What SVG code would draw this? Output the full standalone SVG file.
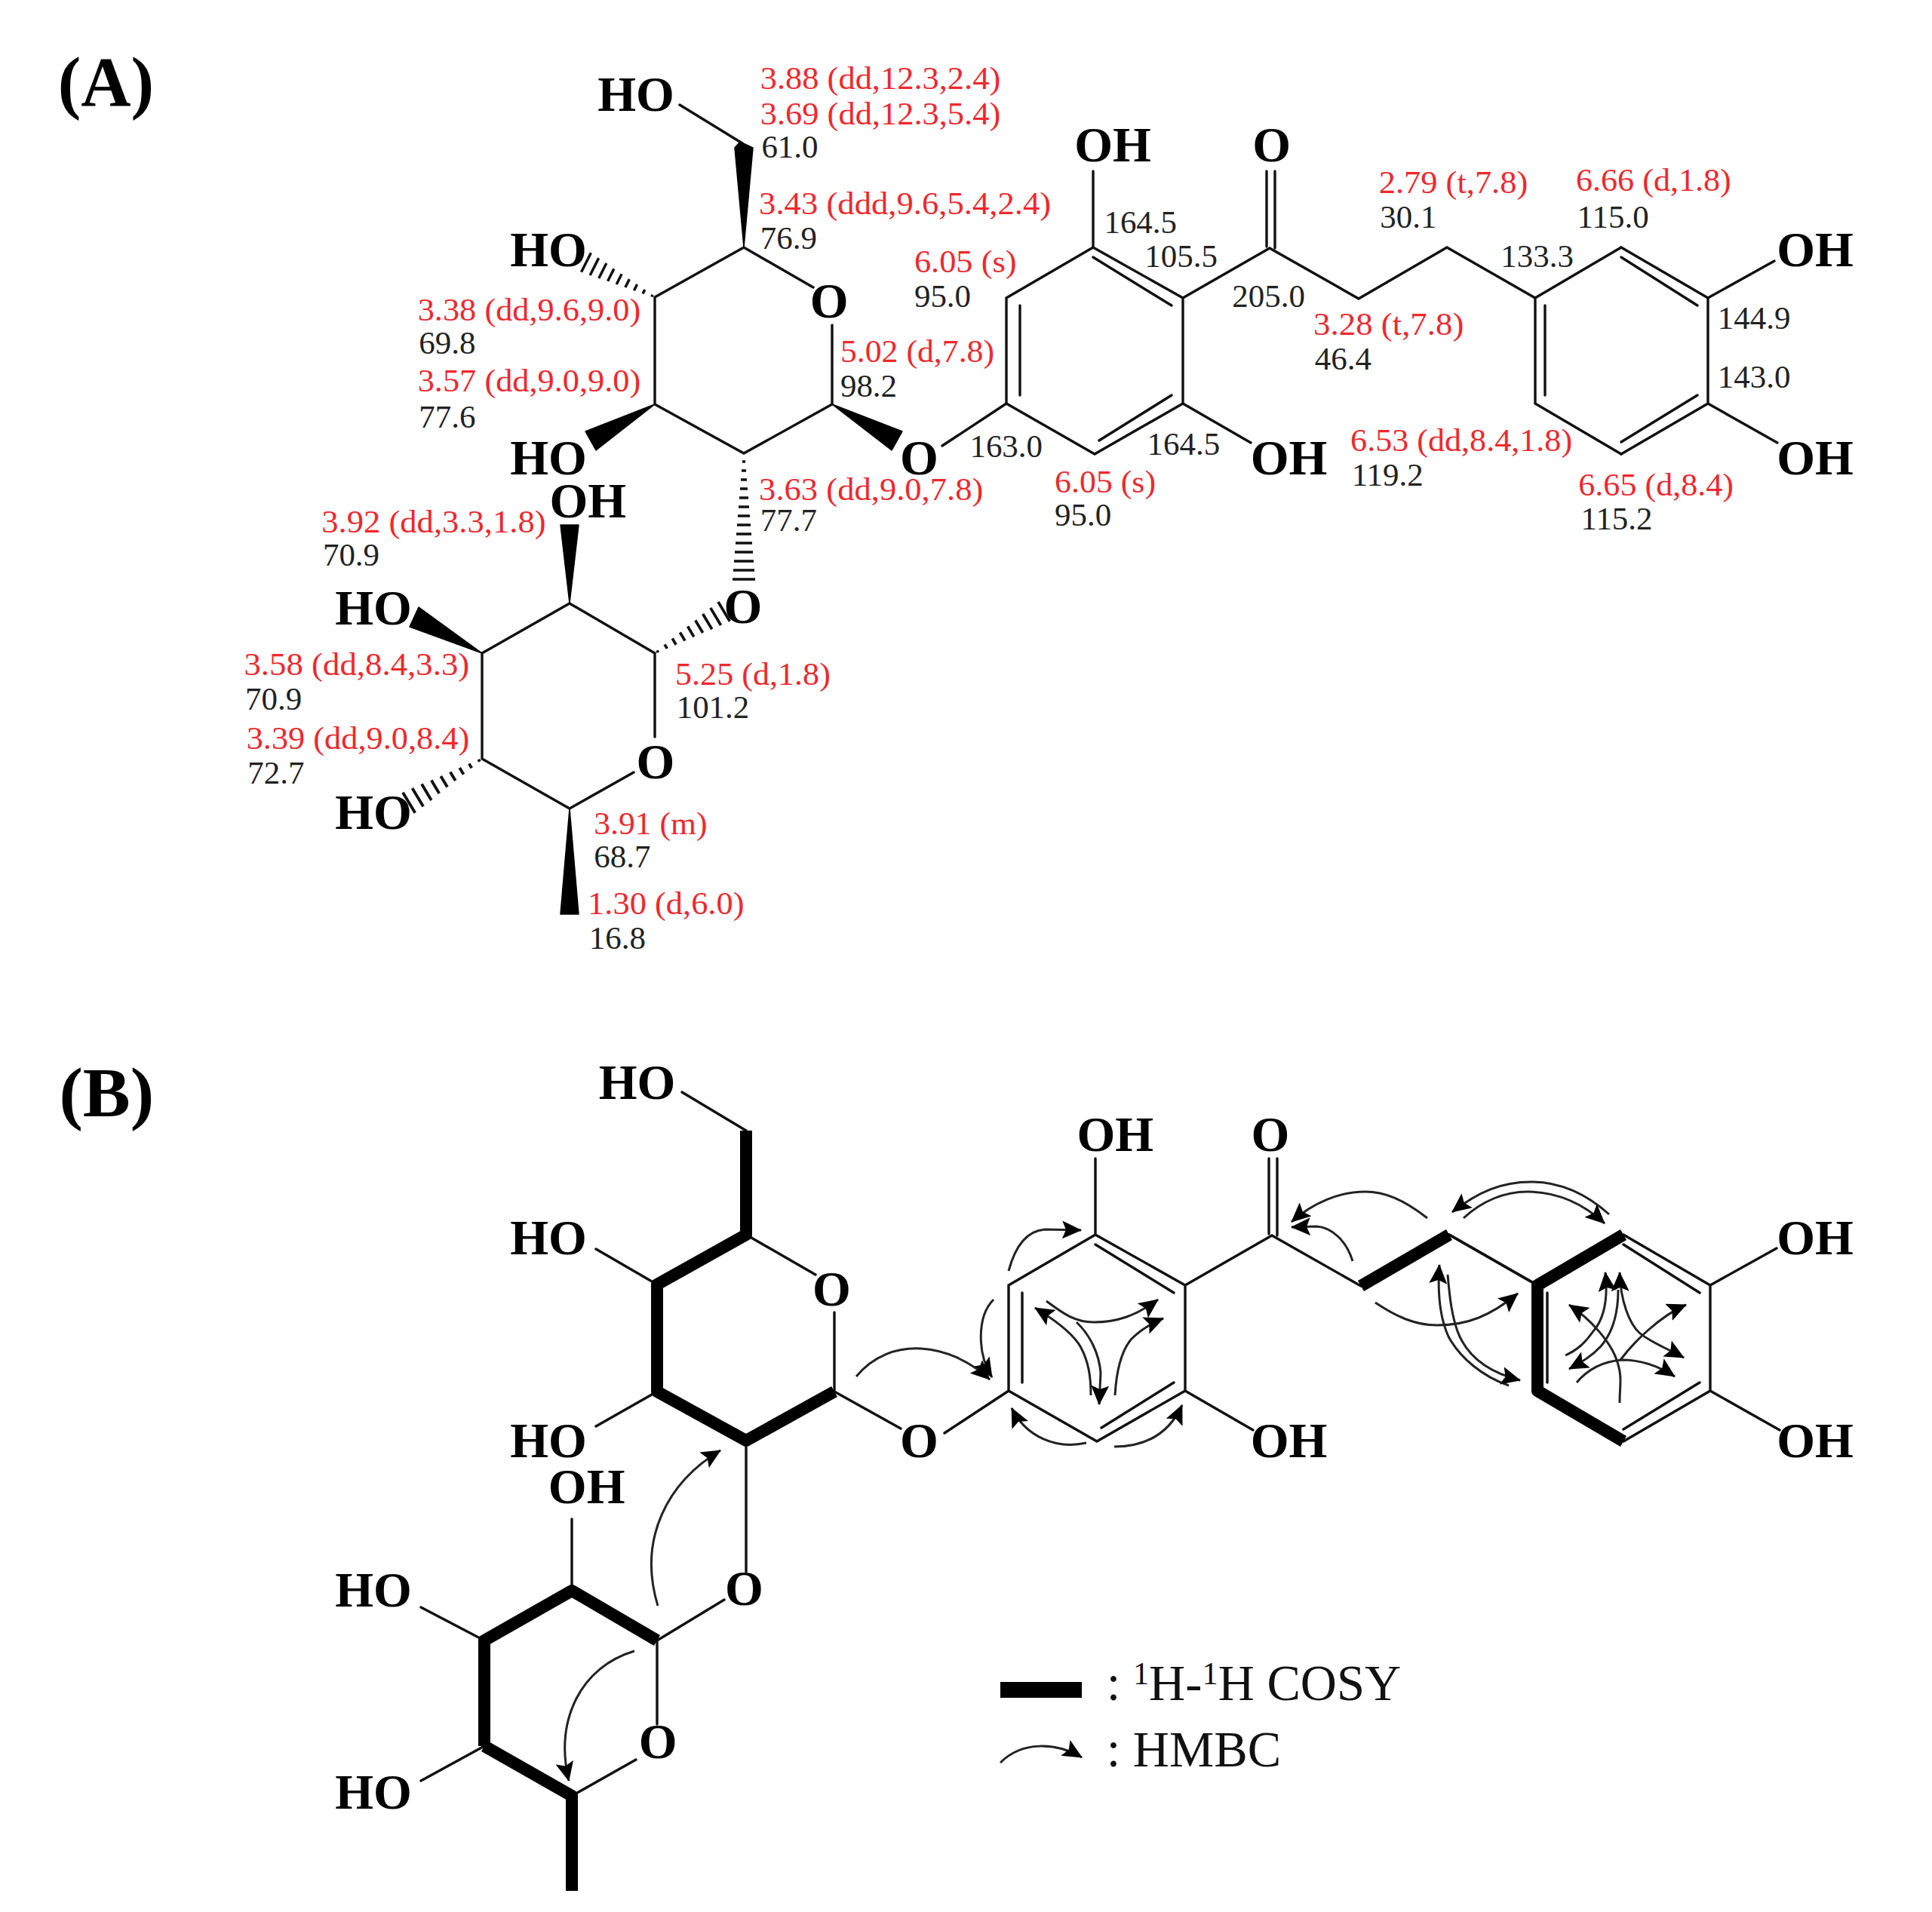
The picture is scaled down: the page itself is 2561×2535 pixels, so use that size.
<svg xmlns="http://www.w3.org/2000/svg" width="2561" height="2535" viewBox="0 0 2561 2535">
<style>
.b{stroke:#111;stroke-width:3.4;fill:none;stroke-linecap:round}
.k{stroke:#000;stroke-width:16;fill:none;stroke-linecap:butt;stroke-linejoin:round}
.w{fill:#000;stroke:#000;stroke-width:1.5;stroke-linejoin:round}
.h{stroke:#111;stroke-width:3.4;fill:none}
.a{stroke:#222;stroke-width:3;fill:none}
.at{font:bold 40px "Liberation Serif",serif;fill:#000}
.o{text-anchor:middle}
.r{font:26.3px "Liberation Serif",serif;fill:#f0282d}
.n{font:26.3px "Liberation Serif",serif;fill:#222}
.t{font:bold 56.5px "Liberation Serif",serif;fill:#000}
.lg{font:40.8px "Liberation Serif",serif;fill:#111}
</style>
<defs>
<marker id="m" viewBox="0 0 26 24" refX="25" refY="12" markerWidth="26" markerHeight="24" markerUnits="userSpaceOnUse" orient="auto-start-reverse"><path d="M0 0L26 12L0 24L5 12Z" fill="#000"/></marker>
<path id="hs" class="h" d="M4-1.5V1.5M16-3V3M28-4.5V4.5M40-6V6M52-7.5V7.5M64-9V9M76-11V11M88-12.5V12.5M100-14V14"/>
<g id="common">
<path class="b" d="M1449 227V328L1334 395V535L1451 602L1568 535V395L1449 328M1568 395L1683 329L1801 396L1918 328L2035 395M2149 328L2264 395V535L2149 602M2264 395L2352 346M2264 535L2356 587M1568 535L1658 587M1334 535L1249 591"/>
<path class="b" d="M1449 341L1553 405M1553 524L1457 584M1352 405V524M1679 227V327M1690 227V329M2250 405L2149 341M2250 524L2149 586"/>
<path class="b" d="M2048 405V524"/>
</g>
</defs>
<g id="panel-A">
<g id="bonds-A">
<use href="#common"/>
<path class="b" d="M901 139L984 190M986 328L868 394V536L986 601L1103 536V431M986 328L1078 381M868 866V977M840 1024L755 1072L639 1006V866L755 800L868 866M2035 395V535L2149 602M2035 395L2149 328"/>
<polygon class="w" points="986,328 974,196 981,188 998,196"/>
<polygon class="w" points="868,536 776,572 790,597"/>
<polygon class="w" points="1103,536 1196,572 1182,597"/>
<polygon class="w" points="755,800 743,696 767,696"/>
<polygon class="w" points="639,866 555,805 543,831"/>
<polygon class="w" points="755,1072 743,1212 767,1212"/>
<use href="#hs" transform="translate(868 394) rotate(206.8) scale(1.02)"/>
<use href="#hs" transform="translate(868 866) rotate(-31) scale(1.07)"/>
<use href="#hs" transform="translate(639 1006) rotate(149) scale(1.13)"/>
<path class="h" d="M984 612H988M983 624H989M982 636H990M981 648H991M980 660H992M979 672H993M978 684H994M977 696H995M976 708H996M975 720H997M974 732H998M973 744H999M972 756H1000M971 768H1001"/>
</g>
<g id="text-A" transform="scale(1.6333)">
<text class="t" x="47" y="86" textLength="78" lengthAdjust="spacingAndGlyphs">(A)</text>
<g id="atoms-A">
<text class="at" x="485" y="90">HO</text><text class="at" x="414" y="216">HO</text><text class="at o" x="673" y="258">O</text><text class="at" x="414" y="385">HO</text><text class="at o" x="746" y="385">O</text><text class="at" x="446" y="420">OH</text><text class="at o" x="603" y="506">O</text><text class="at" x="272" y="507">HO</text><text class="at o" x="532" y="632">O</text><text class="at" x="272" y="673">HO</text><text class="at" x="872" y="131">OH</text><text class="at o" x="1032" y="131">O</text><text class="at" x="1442" y="216">OH</text><text class="at" x="1015" y="385">OH</text><text class="at" x="1442" y="385">OH</text>
</g>
<g id="shifts-H" transform="translate(0 -1)">
<text class="r" x="617" y="73" textLength="195" lengthAdjust="spacingAndGlyphs">3.88 (dd,12.3,2.4)</text>
<text class="r" x="617" y="102" textLength="195" lengthAdjust="spacingAndGlyphs">3.69 (dd,12.3,5.4)</text>
<text class="r" x="616" y="175" textLength="237" lengthAdjust="spacingAndGlyphs">3.43 (ddd,9.6,5.4,2.4)</text>
<text class="r" x="742" y="222" textLength="83" lengthAdjust="spacingAndGlyphs">6.05 (s)</text>
<text class="r" x="1119" y="158" textLength="121" lengthAdjust="spacingAndGlyphs">2.79 (t,7.8)</text>
<text class="r" x="1279" y="156" textLength="126" lengthAdjust="spacingAndGlyphs">6.66 (d,1.8)</text>
<text class="r" x="339" y="261" textLength="181" lengthAdjust="spacingAndGlyphs">3.38 (dd,9.6,9.0)</text>
<text class="r" x="682" y="295" textLength="125" lengthAdjust="spacingAndGlyphs">5.02 (d,7.8)</text>
<text class="r" x="339" y="319" textLength="181" lengthAdjust="spacingAndGlyphs">3.57 (dd,9.0,9.0)</text>
<text class="r" x="1066" y="273" textLength="122" lengthAdjust="spacingAndGlyphs">3.28 (t,7.8)</text>
<text class="r" x="1096" y="367" textLength="180" lengthAdjust="spacingAndGlyphs">6.53 (dd,8.4,1.8)</text>
<text class="r" x="856" y="401" textLength="82" lengthAdjust="spacingAndGlyphs">6.05 (s)</text>
<text class="r" x="616" y="407" textLength="182" lengthAdjust="spacingAndGlyphs">3.63 (dd,9.0,7.8)</text>
<text class="r" x="1281" y="403" textLength="126" lengthAdjust="spacingAndGlyphs">6.65 (d,8.4)</text>
<text class="r" x="261" y="433" textLength="182" lengthAdjust="spacingAndGlyphs">3.92 (dd,3.3,1.8)</text>
<text class="r" x="548" y="557" textLength="126" lengthAdjust="spacingAndGlyphs">5.25 (d,1.8)</text>
<text class="r" x="198" y="549" textLength="183" lengthAdjust="spacingAndGlyphs">3.58 (dd,8.4,3.3)</text>
<text class="r" x="200" y="609" textLength="181" lengthAdjust="spacingAndGlyphs">3.39 (dd,9.0,8.4)</text>
<text class="r" x="482" y="678" textLength="92" lengthAdjust="spacingAndGlyphs">3.91 (m)</text>
<text class="r" x="477" y="743" textLength="127" lengthAdjust="spacingAndGlyphs">1.30 (d,6.0)</text>
</g>
<g id="shifts-C" transform="translate(0 -1)">
<text class="n" x="618" y="129">61.0</text><text class="n" x="617" y="203">76.9</text><text class="n" x="742" y="250">95.0</text><text class="n" x="896" y="190">164.5</text><text class="n" x="929" y="218">105.5</text><text class="n" x="1000" y="250">205.0</text><text class="n" x="1120" y="186">30.1</text><text class="n" x="1280" y="186">115.0</text><text class="n" x="1218" y="218">133.3</text><text class="n" x="340" y="288">69.8</text><text class="n" x="682" y="323">98.2</text><text class="n" x="340" y="348">77.6</text><text class="n" x="1067" y="301">46.4</text><text class="n" x="1394" y="268">144.9</text><text class="n" x="1394" y="316">143.0</text><text class="n" x="1097" y="395">119.2</text><text class="n" x="787" y="372">163.0</text><text class="n" x="931" y="370">164.5</text><text class="n" x="856" y="428">95.0</text><text class="n" x="617" y="432">77.7</text><text class="n" x="1283" y="431">115.2</text><text class="n" x="262" y="460">70.9</text><text class="n" x="549" y="584">101.2</text><text class="n" x="199" y="577">70.9</text><text class="n" x="201" y="637">72.7</text><text class="n" x="482" y="705">68.7</text><text class="n" x="478" y="771">16.8</text>
</g>
</g>
</g>
<g id="panel-B">
<g id="bonds-B" transform="translate(3 1309)">
<use href="#common"/>
<path class="b" d="M901 139L986 190M787 347L868 394M787 582L868 536M986 328L1078 381M1103 431V536M1103 536L1191 585M986 601V775M957 812L868 866M755 800V705M639 866L555 822M639 1006L555 1052M868 866V977M840 1024L755 1072M2035 395L1918 328"/>
<path class="k" d="M986 190V328L868 394V536L986 601L1103 536M639 1006V866L755 800L868 866M639 1006L755 1072V1198M1801 396L1918 328M2149 328L2035 395V535L2149 602"/>
</g>
<g id="arrows-B">
<path class="a" marker-end="url(#m)" d="M1135 1825C1180 1770 1260 1780 1312 1829"/>
<path class="a" marker-end="url(#m)" d="M1317 1723C1295 1745 1295 1795 1315 1826"/>
<path class="a" marker-end="url(#m)" d="M1337 1685C1345 1655 1360 1632 1385 1630L1433 1631"/>
<path class="a" marker-end="url(#m)" d="M1440 1913C1400 1922 1360 1905 1341 1867"/>
<path class="a" marker-end="url(#m)" d="M1477 1918C1520 1918 1550 1900 1567 1863"/>
<path class="a" marker-end="url(#m)" d="M1387 1725C1410 1742 1425 1753 1450 1753C1480 1753 1505 1745 1535 1723"/>
<path class="a" marker-start="url(#m)" d="M1372 1734C1395 1748 1420 1765 1432 1785C1443 1805 1446 1825 1446 1850"/>
<path class="a" marker-end="url(#m)" d="M1427 1753C1445 1770 1457 1795 1459 1820L1457 1862"/>
<path class="a" marker-end="url(#m)" d="M1478 1850C1480 1815 1487 1790 1500 1775C1510 1765 1525 1755 1542 1748"/>
<path class="a" marker-end="url(#m)" d="M1892 1615C1860 1590 1835 1580 1810 1580C1775 1580 1740 1595 1712 1620"/>
<path class="a" marker-end="url(#m)" d="M1793 1672C1785 1645 1765 1627 1745 1626L1712 1627"/>
<path class="a" marker-start="url(#m)" d="M1925 1607C1960 1580 1990 1567 2030 1567C2070 1567 2105 1585 2133 1610"/>
<path class="a" marker-end="url(#m)" d="M1940 1615C1965 1592 1995 1580 2025 1580C2065 1580 2100 1597 2127 1622"/>
<path class="a" marker-end="url(#m)" d="M1823 1727C1850 1745 1875 1757 1905 1757C1945 1757 1975 1745 2012 1715"/>
<path class="a" marker-start="url(#m)" d="M1908 1677C1905 1720 1910 1750 1920 1772C1935 1800 1965 1825 2000 1837"/>
<path class="a" marker-end="url(#m)" d="M1919 1690C1922 1725 1925 1745 1932 1765C1945 1800 1975 1820 2015 1830"/>
<path class="a" marker-start="url(#m)" d="M2080 1730C2110 1750 2135 1780 2143 1803S2147 1835 2147 1860"/>
<path class="a" marker-start="url(#m)" d="M2235 1730C2200 1745 2165 1780 2148 1803"/>
<path class="a" marker-end="url(#m)" d="M2090 1833C2105 1815 2125 1805 2150 1803C2175 1803 2200 1812 2220 1825"/>
<path class="a" marker-start="url(#m)" d="M2128 1687C2132 1725 2125 1750 2112 1765C2100 1782 2090 1790 2075 1797"/>
<path class="a" marker-end="url(#m)" d="M2145 1710C2145 1745 2135 1770 2122 1785C2110 1798 2098 1805 2080 1815"/>
<path class="a" marker-start="url(#m)" marker-end="url(#m)" d="M2147 1687C2148 1725 2160 1755 2173 1767C2185 1778 2210 1788 2232 1800"/>
<path class="a" marker-end="url(#m)" d="M872 2129C845 2040 885 1965 955 1923"/>
<path class="a" marker-end="url(#m)" d="M841 2189C770 2210 735 2280 754 2361"/>
</g>
<g id="text-B" transform="scale(1.6333)">
<text class="t" x="48" y="906" textLength="77" lengthAdjust="spacingAndGlyphs">(B)</text>
<text class="at" x="486" y="892">HO</text><text class="at" x="414" y="1018">HO</text><text class="at o" x="675" y="1060">O</text><text class="at" x="414" y="1183">HO</text><text class="at o" x="746" y="1183">O</text><text class="at" x="445" y="1220">OH</text><text class="at o" x="604" y="1303">O</text><text class="at" x="272" y="1304">HO</text><text class="at o" x="534" y="1427">O</text><text class="at" x="272" y="1468">HO</text><text class="at" x="874" y="934">OH</text><text class="at o" x="1031" y="934">O</text><text class="at" x="1442" y="1018">OH</text><text class="at" x="1015" y="1183">OH</text><text class="at" x="1442" y="1183">OH</text>
</g>
</g>
<g id="legend">
<rect x="1326" y="2230" width="108" height="21" fill="#000"/>
<path class="a" marker-end="url(#m)" d="M1326 2337C1355 2308 1400 2310 1434 2330"/>
<g transform="scale(1.6333)">
<text class="lg" x="898" y="1380">: <tspan dy="-13" font-size="26">1</tspan><tspan dy="13">H-</tspan><tspan dy="-13" font-size="26">1</tspan><tspan dy="13">H COSY</tspan></text>
<text class="lg" x="898" y="1434">: HMBC</text>
</g>
</g>
</svg>
